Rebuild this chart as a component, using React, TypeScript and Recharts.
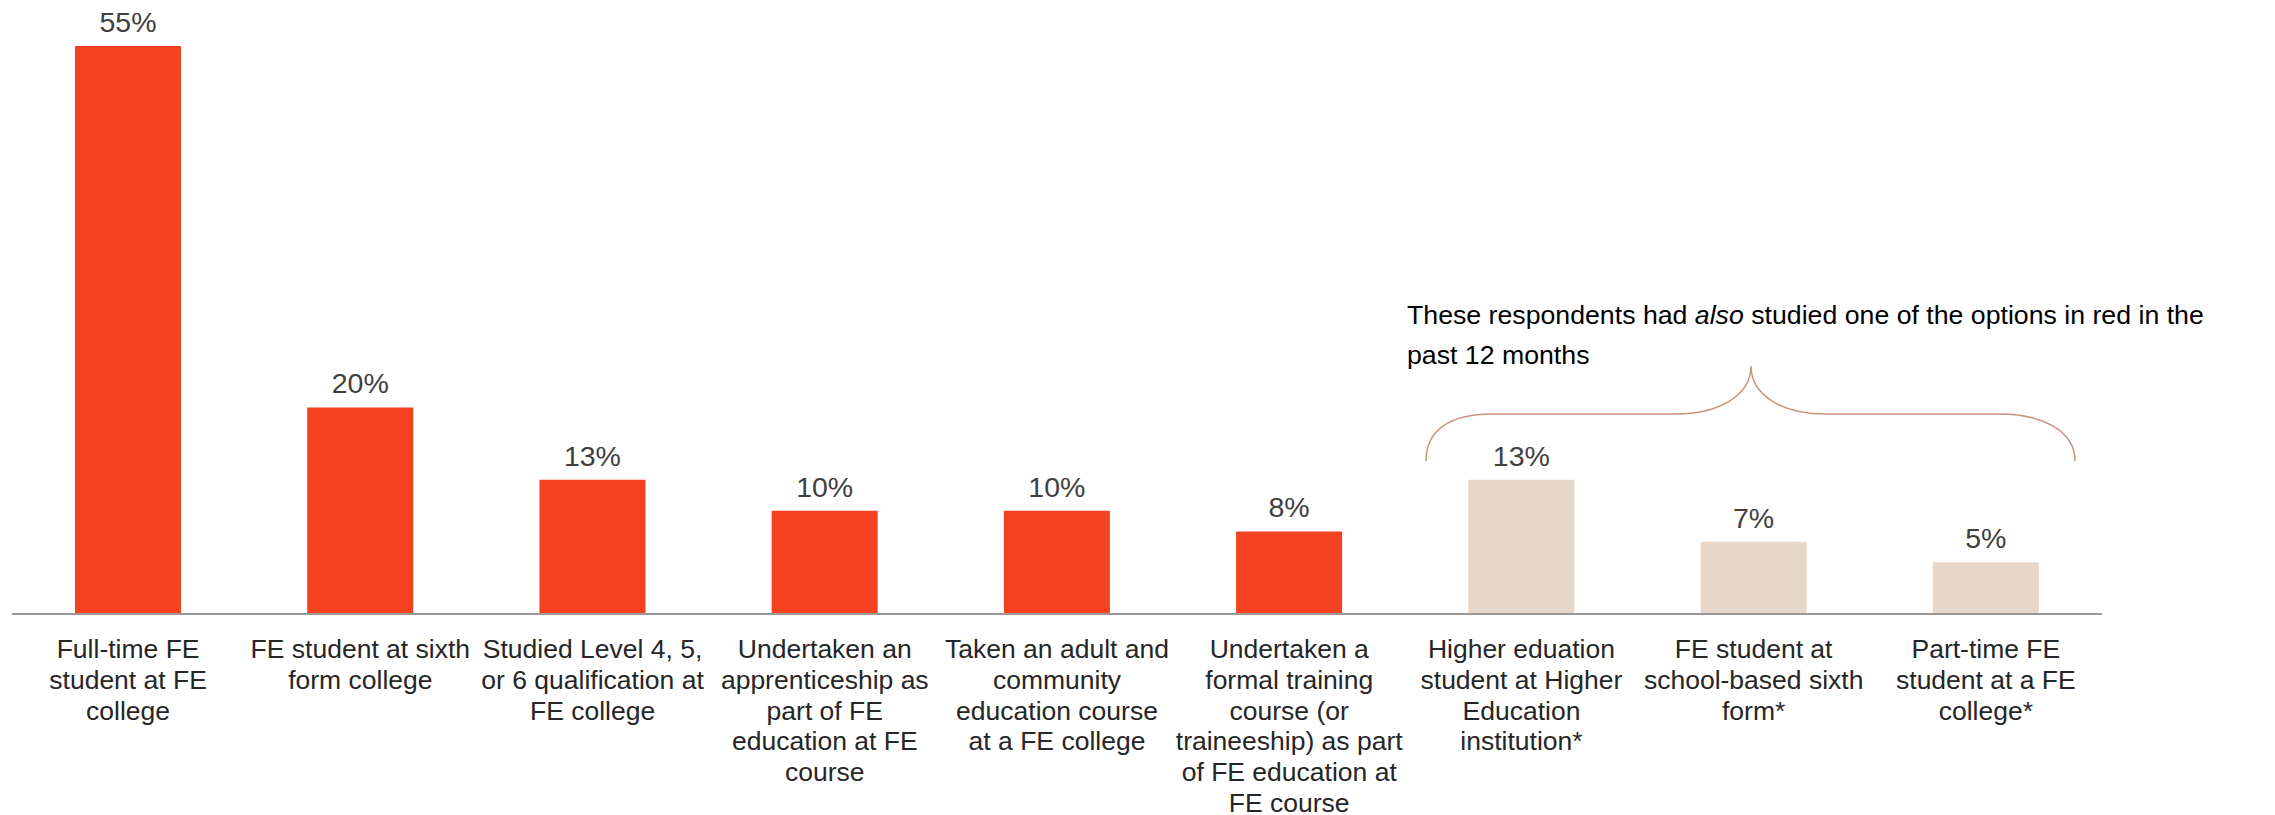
import { Bar, BarChart, Cell, LabelList, XAxis, YAxis } from "recharts";

const CATEGORIES = [
  "Full-time FE\nstudent at FE\ncollege",
  "FE student at sixth\nform college",
  "Studied Level 4, 5,\nor 6 qualification at\nFE college",
  "Undertaken an\napprenticeship as\npart of FE\neducation at FE\ncourse",
  "Taken an adult and\ncommunity\neducation course\nat a FE college",
  "Undertaken a\nformal training\ncourse (or\ntraineeship) as part\nof FE education at\nFE course",
  "Higher eduation\nstudent at Higher\nEducation\ninstitution*",
  "FE student at\nschool-based sixth\nform*",
  "Part-time FE\nstudent at a FE\ncollege*",
];
const SHARES = [55, 20, 13, 10, 10, 8, 13, 7, 5];
// true = also studied one of the red options
const ALSO_STUDIED = [false, false, false, false, false, false, true, true, true];

const RED = "#f4411f";
const BEIGE = "#e8d6c8";
const FONT = "'Liberation Sans', Arial, sans-serif";

const data = CATEGORIES.map((name, i) => ({
  name,
  share: SHARES[i],
  also: ALSO_STUDIED[i],
}));

function CategoryTick({ x, y, payload }: any) {
  const lines = String(payload.value).split("\n");
  return (
    <text x={x} y={y} textAnchor="middle" fill="#262626" fontSize={26.5} fontFamily={FONT}>
      {lines.map((line, i) => (
        <tspan key={i} x={x} dy={i === 0 ? 44 : 30.8}>
          {line}
        </tspan>
      ))}
    </text>
  );
}

export default function App() {
  return (
    <div style={{ position: "relative", width: 2259, height: 807 }}>
      <style>{"html,body{overflow:hidden}"}</style>
      <BarChart
        width={2259}
        height={807}
        data={data}
        margin={{ top: 38, right: 165, left: 4, bottom: 3 }}
      >
        <XAxis
          dataKey="name"
          interval={0}
          height={198}
          tickLine={false}
          tickSize={0}
          tickMargin={0}
          axisLine={{ stroke: "#999999", strokeWidth: 2 }}
          tick={<CategoryTick />}
        />
        <YAxis hide domain={[0, 55]} />
        <Bar dataKey="share" barSize={106} isAnimationActive={false}>
          {data.map((d, i) => (
            <Cell key={i} fill={d.also ? BEIGE : RED} />
          ))}
          <LabelList
            dataKey="share"
            position="top"
            offset={14}
            formatter={(v: any) => `${v}%`}
            style={{ fill: "#404040", fontSize: 28.5, fontFamily: FONT }}
          />
        </Bar>
      </BarChart>
      <svg
        width={2259}
        height={807}
        style={{ position: "absolute", left: 0, top: 0, pointerEvents: "none" }}
      >
        <path
          d="M 1418 453 C 1418 422, 1442 406, 1484 406 L 1667 406 C 1712 406, 1743 387, 1743 358 C 1743 387, 1774 406, 1817 406 L 1991 406 C 2033 406, 2067 422, 2067 453"
          fill="none"
          stroke="#c8937a"
          strokeWidth={1.5}
        />
        <text x={1399} y={316} fill="#000000" fontSize={26.7} fontFamily={FONT}>
          These respondents had <tspan fontStyle="italic">also</tspan> studied one of the options in
          red in the
        </text>
        <text x={1399} y={356} fill="#000000" fontSize={26.7} fontFamily={FONT}>
          past 12 months
        </text>
      </svg>
    </div>
  );
}
